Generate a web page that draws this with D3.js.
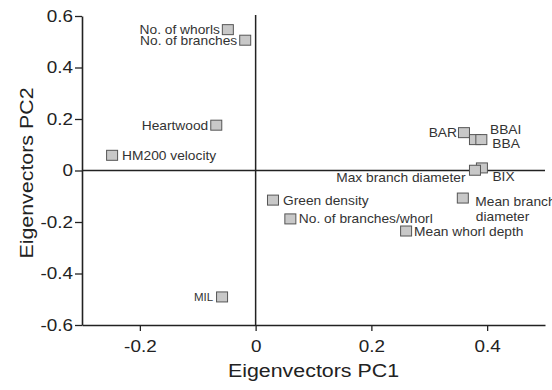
<!DOCTYPE html>
<html>
<head>
<meta charset="utf-8">
<script src="https://cdn.jsdelivr.net/npm/d3@7"></script>
<style>
  html, body { margin: 0; padding: 0; background: #fff; }
  svg { display: block; font-family: "Liberation Sans", Arial, sans-serif; }
</style>
</head>
<body>
<svg id="chart" width="552" height="390"></svg>
<script>
// ---- data ----
const variables = ["No. of whorls", "No. of branches", "Heartwood", "HM200 velocity", "MIL",
  "Green density", "No. of branches/whorl", "Mean whorl depth", "Mean branch diameter",
  "BAR", "BBAI", "BBA", "BIX", "Max branch diameter"];
const pc1 = [-0.048, -0.018, -0.068, -0.248, -0.058,
  0.030, 0.060, 0.260, 0.358,
  0.360, 0.379, 0.390, 0.391, 0.379];
const pc2 = [0.547, 0.506, 0.176, 0.059, -0.491,
  -0.115, -0.188, -0.235, -0.107,
  0.147, 0.120, 0.120, 0.010, 0.001];
const xTicks = [-0.2, 0, 0.2, 0.4];
const yTicks = [-0.6, -0.4, -0.2, 0, 0.2, 0.4, 0.6];
const xTitle = "Eigenvectors PC1";
const yTitle = "Eigenvectors PC2";

// ---- label layout (positions relative to marker) ----
const labelLayout = {
  "No. of whorls":         {anchor: "end",   dx: -8,   dy: [4.5]},
  "No. of branches":       {anchor: "end",   dx: -8,   dy: [4.5]},
  "Heartwood":             {anchor: "end",   dx: -8,   dy: [4.5]},
  "HM200 velocity":        {anchor: "start", dx: 10,   dy: [4.5]},
  "MIL":                   {anchor: "end",   dx: -9,   dy: [4.5], size: 11.5, sx: 1},
  "Green density":         {anchor: "start", dx: 10,   dy: [4.5]},
  "No. of branches/whorl": {anchor: "start", dx: 8.5,  dy: [4.5]},
  "Mean whorl depth":      {anchor: "start", dx: 8,    dy: [4.5]},
  "Mean branch diameter":  {anchor: "start", dx: 12.5, dy: [8, 22.5], lines: ["Mean branch", "diameter"], dxs: [12.5, 13]},
  "BAR":                   {anchor: "end",   dx: -7,   dy: [4.5]},
  "BBAI":                  {anchor: "start", dx: 15,   dy: [-6]},
  "BBA":                   {anchor: "start", dx: 11,   dy: [8]},
  "BIX":                   {anchor: "start", dx: 10.5, dy: [13]},
  "Max branch diameter":   {anchor: "end",   dx: -9.5, dy: [11.5]}
};

const W = 552, H = 390;
const pLeft = 82, pRight = 545, pTop = 16, pBottom = 325;
const svg = d3.select("#chart");

const x = d3.scaleLinear().domain([-0.3, 0.5]).range([pLeft, pRight]);
const y = d3.scaleLinear().domain([-0.6, 0.6]).range([pBottom, pTop]);

const fmt = d => d === 0 ? "0" : d.toFixed(1);
const axisColor = "#222";

// Y axis
const gy = svg.append("g").attr("transform", `translate(${pLeft},0)`)
  .call(d3.axisLeft(y).tickValues(yTicks).tickFormat(fmt).tickSize(7).tickSizeOuter(0).tickPadding(2));
// X axis
const gx = svg.append("g").attr("transform", `translate(0,${pBottom})`)
  .call(d3.axisBottom(x).tickValues(xTicks).tickFormat(fmt).tickSize(6).tickSizeOuter(0).tickPadding(9.5));

[gy, gx].forEach(g => {
  g.select(".domain").attr("stroke", axisColor).attr("stroke-width", 1.6);
  g.selectAll(".tick line").attr("stroke", axisColor).attr("stroke-width", 1.3);
  g.selectAll(".tick text").attr("fill", axisColor)
    .attr("font-size", 16).attr("font-family", "Liberation Sans, Arial, sans-serif");
});
const tsx = 1.18;
gy.selectAll(".tick text").attr("x", -9 / tsx).attr("transform", `scale(${tsx},1)`);
gx.selectAll(".tick text").attr("transform", `scale(${tsx},1)`);

// Zero lines
svg.append("line")
  .attr("x1", x(0)).attr("x2", x(0)).attr("y1", pTop - 1).attr("y2", pBottom)
  .attr("stroke", axisColor).attr("stroke-width", 1.5);
svg.append("line")
  .attr("x1", pLeft).attr("x2", pRight).attr("y1", y(0)).attr("y2", y(0))
  .attr("stroke", axisColor).attr("stroke-width", 1.5);

// Axis titles
const tsT = 1.15;
svg.append("text")
  .attr("transform", `translate(${(pLeft + pRight) / 2},377) scale(${tsT},1)`)
  .attr("text-anchor", "middle").attr("font-size", 18.6).attr("fill", axisColor)
  .text(xTitle);
svg.append("text")
  .attr("transform", `translate(33,173) rotate(-90) scale(${tsT},1)`)
  .attr("text-anchor", "middle").attr("font-size", 18.6).attr("fill", axisColor)
  .text(yTitle);

// Points
const data = variables.map((v, i) => ({name: v, px: pc1[i], py: pc2[i]}));
const mw = 11, mh = 10;
svg.append("g").selectAll("rect").data(data).join("rect")
  .attr("x", d => x(d.px) - mw / 2).attr("y", d => y(d.py) - mh / 2)
  .attr("width", mw).attr("height", mh)
  .attr("fill", "#c8c8c8").attr("stroke", "#555").attr("stroke-width", 1);

// Labels
const lg = svg.append("g");
data.forEach(d => {
  const L = labelLayout[d.name];
  const lines = L.lines || [d.name];
  const sx = L.sx || 1.06;
  const size = L.size || 13;
  lines.forEach((t, k) => {
    const dx = L.dxs ? L.dxs[k] : L.dx;
    lg.append("text")
      .attr("transform", `translate(${x(d.px) + dx},${y(d.py) + L.dy[k]}) scale(${sx},1)`)
      .attr("text-anchor", L.anchor)
      .attr("font-size", size).attr("fill", "#333")
      .text(t);
  });
});
</script>
</body>
</html>
